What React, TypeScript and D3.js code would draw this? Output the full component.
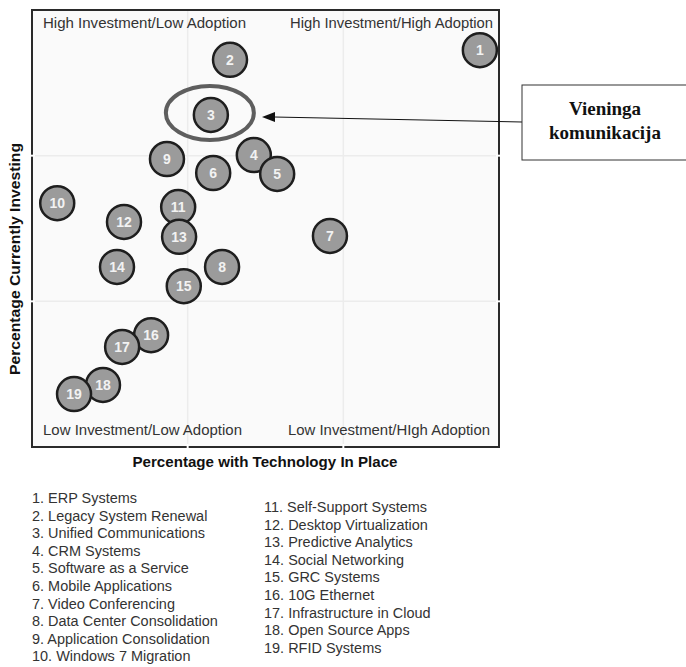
import React from "react";
import * as d3 from "d3";

const ids = [1, 2, 3, 4, 5, 6, 7, 8, 9, 10, 11, 12, 13, 14, 15, 16, 17, 18, 19];
const adoption = [95.9, 42.4, 38.3, 47.5, 52.5, 38.8, 63.8, 40.7, 28.9, 5.4, 31.3, 19.7, 31.5, 18.2, 32.5, 25.5, 19.3, 15.2, 9.0];
const investing = [90.8, 88.6, 76.0, 66.8, 62.5, 62.7, 48.3, 41.2, 65.9, 55.8, 54.9, 51.5, 48.1, 41.2, 36.8, 25.6, 22.9, 14.2, 12.1];
const names = [
  "ERP Systems", "Legacy System Renewal", "Unified Communications", "CRM Systems",
  "Software as a Service", "Mobile Applications", "Video Conferencing",
  "Data Center Consolidation", "Application Consolidation", "Windows  7 Migration",
  "Self-Support Systems", "Desktop Virtualization", "Predictive Analytics",
  "Social Networking", "GRC Systems", "10G Ethernet", "Infrastructure in Cloud",
  "Open Source Apps", "RFID Systems",
];
const quadrantLabels = [
  "High Investment/Low Adoption", "High Investment/High Adoption",
  "Low Investment/Low Adoption", "Low Investment/HIgh Adoption",
];
const gridTicks = [100 / 3, 200 / 3];
const highlightId = 3;
const calloutLines = ["Vieninga", "komunikacija"];
const xTitle = "Percentage with Technology In Place";
const yTitle = "Percentage Currently Investing";

const narrow = "'Liberation Sans Narrow', 'Arial Narrow', 'Liberation Sans', sans-serif";

export default function App() {
  const L = 32, R = 499, T = 10, B = 447;
  const x = d3.scaleLinear().domain([0, 100]).range([L, R]);
  const y = d3.scaleLinear().domain([0, 100]).range([B, T]);
  const r = 18;
  const hi = ids.indexOf(highlightId);
  const hx = x(adoption[hi]);
  const hy = y(investing[hi]);

  return (
    <svg width={686} height={667} style={{ position: "absolute", left: 0, top: 0, background: "#fff" }}>
      <rect x={L} y={T} width={R - L} height={B - T} fill="#fafafa" />
      {gridTicks.map((t, i) => (
        <g key={i}>
          <line x1={x(t)} x2={x(t)} y1={T} y2={B} stroke="#ececec" strokeWidth={1.5} />
          <line x1={L} x2={R} y1={y(t)} y2={y(t)} stroke="#ececec" strokeWidth={1.5} />
        </g>
      ))}
      <rect x={L} y={T} width={R - L} height={B - T} fill="none" stroke="#2a2a2a" strokeWidth={2} />
      {gridTicks.map((t, i) => (
        <g key={"g" + i}>
          <line x1={x(t)} x2={x(t)} y1={B - 3} y2={B + 3} stroke="#fff" strokeWidth={2} />
          <line x1={L - 3} x2={L + 3} y1={y(t)} y2={y(t)} stroke="#fff" strokeWidth={2} />
          <line x1={R - 3} x2={R + 3} y1={y(t)} y2={y(t)} stroke="#fff" strokeWidth={2} />
        </g>
      ))}

      <text x={43} y={28} fontFamily={narrow} fontSize={15} fill="#333" textLength={203} lengthAdjust="spacingAndGlyphs">{quadrantLabels[0]}</text>
      <text x={290} y={28} fontFamily={narrow} fontSize={15} fill="#333" textLength={203} lengthAdjust="spacingAndGlyphs">{quadrantLabels[1]}</text>
      <text x={43} y={435} fontFamily={narrow} fontSize={15} fill="#333" textLength={199} lengthAdjust="spacingAndGlyphs">{quadrantLabels[2]}</text>
      <text x={288} y={435} fontFamily={narrow} fontSize={15} fill="#333" textLength={202} lengthAdjust="spacingAndGlyphs">{quadrantLabels[3]}</text>

      {ids.map((id, i) => (
        <g key={id}>
          <circle cx={x(adoption[i])} cy={y(investing[i])} r={r - 1} fill="#9b9b9b" stroke="#1e1e1e" strokeWidth={2.5} />
          <text x={x(adoption[i])} y={y(investing[i])} dy="0.36em" textAnchor="middle" fontFamily={narrow} fontWeight="bold" fontSize={14} fill="#f2f2f2">{id}</text>
        </g>
      ))}

      <ellipse cx={hx - 1} cy={hy - 2} rx={44} ry={27} fill="none" stroke="#5e5e5e" strokeWidth={4} />

      <line x1={522} y1={122} x2={274} y2={117} stroke="#111" strokeWidth={1} />
      <path d={`M262,117 L275,112 L275,122 Z`} fill="#111" />
      <rect x={522} y={85} width={170} height={75} fill="#fff" stroke="#333" strokeWidth={1} />
      {calloutLines.map((s, i) => (
        <text key={i} x={605} y={115 + i * 24} textAnchor="middle" fontFamily="'Liberation Serif', 'Times New Roman', serif" fontWeight="bold" fontSize={19} fill="#111">{s}</text>
      ))}

      <text x={265} y={467} textAnchor="middle" fontFamily={narrow} fontWeight="bold" fontSize={15} fill="#111" textLength={265} lengthAdjust="spacingAndGlyphs">{xTitle}</text>
      <text transform={`translate(20,259) rotate(-90)`} textAnchor="middle" fontFamily={narrow} fontWeight="bold" fontSize={15} fill="#111" textLength={232} lengthAdjust="spacingAndGlyphs">{yTitle}</text>

      {ids.map((id, i) => {
        const col = i < 10 ? 0 : 1;
        const row = col === 0 ? i : i - 10;
        const tx = col === 0 ? 32 : 264;
        const ty = (col === 0 ? 503 : 512) + row * 17.6;
        return (
          <text key={"l" + id} transform={`translate(${tx},${ty}) scale(0.965,1.03)`} fontFamily={narrow} fontSize={15} fill="#333">{`${id}. ${names[i]}`}</text>
        );
      })}
    </svg>
  );
}
